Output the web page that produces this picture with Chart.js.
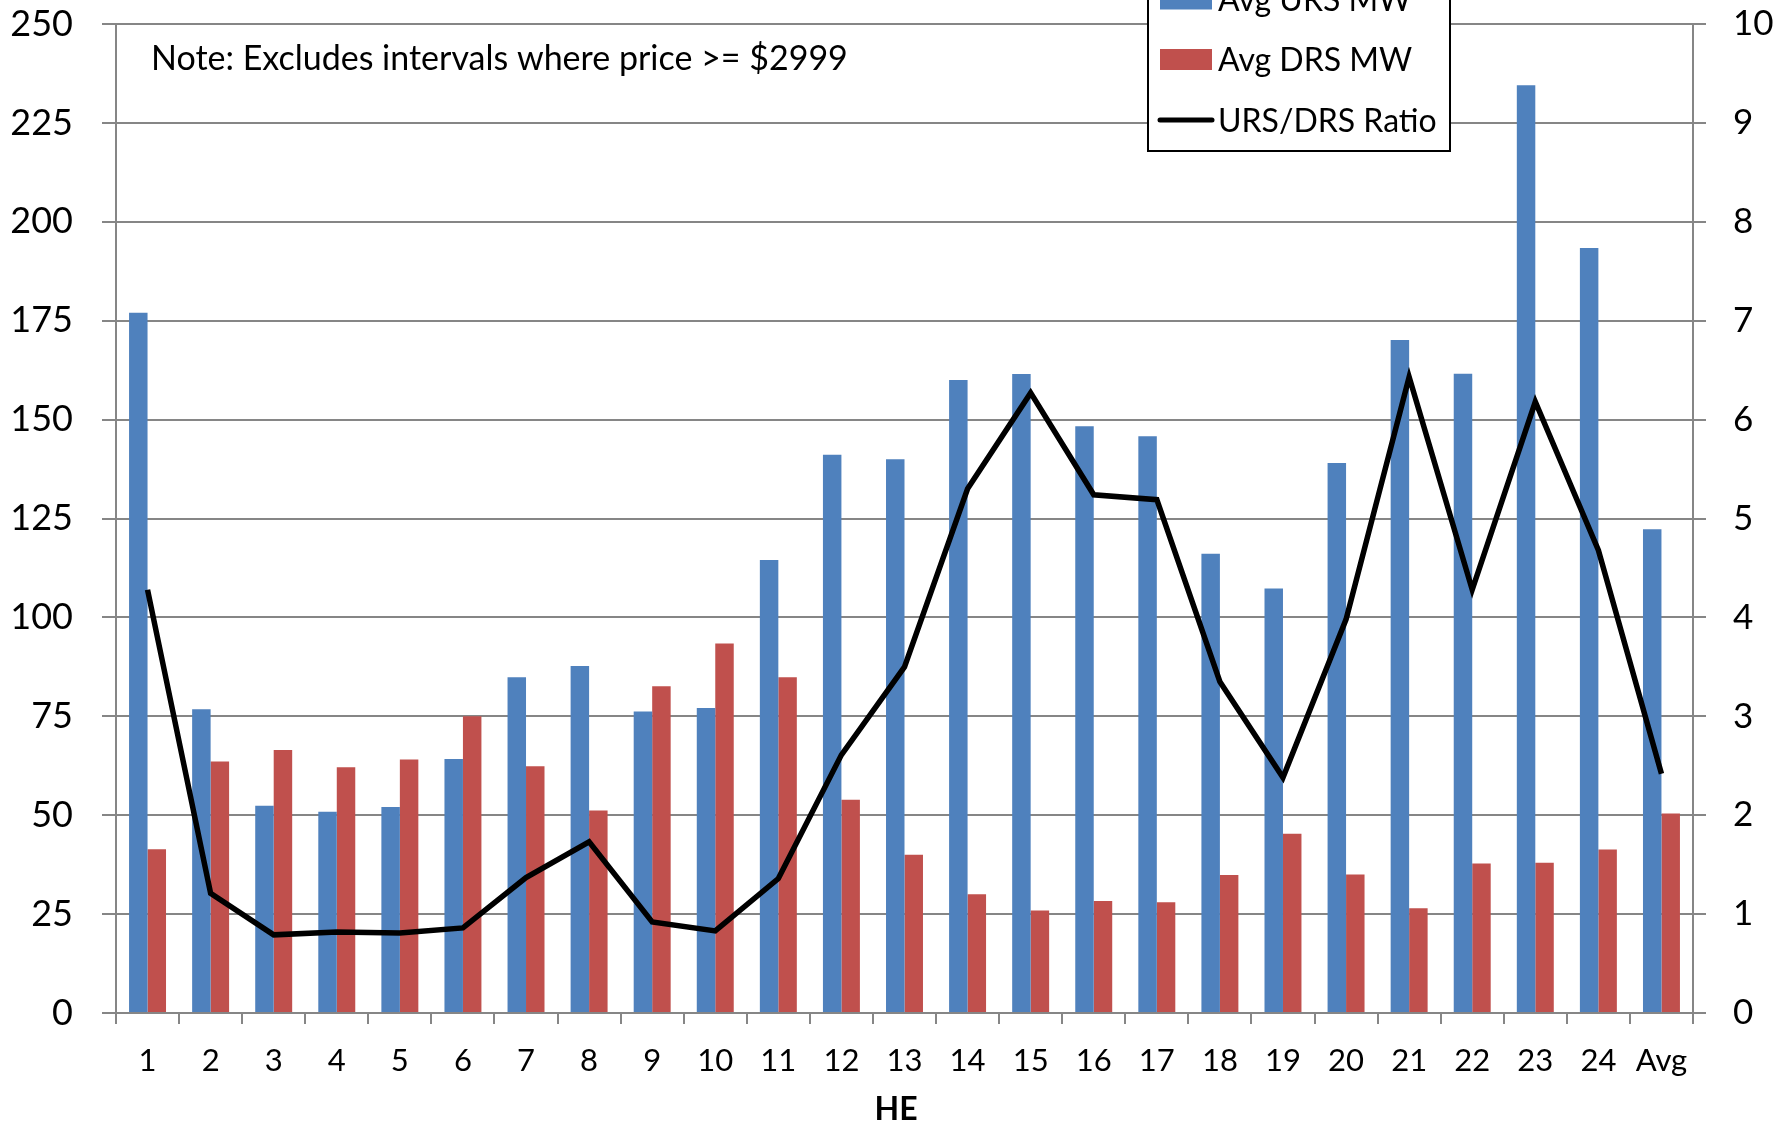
<!DOCTYPE html>
<html>
<head>
<meta charset="utf-8">
<title>Avg URS / DRS MW by HE</title>
<script src="https://cdn.jsdelivr.net/npm/chart.js@4.4.1/dist/chart.umd.min.js"></script>
<style>
    html, body { margin: 0; padding: 0; background: #ffffff; }
    #wrap { position: relative; width: 1782px; height: 1126px; }
</style>
</head>
<body>
<div id="wrap"><canvas id="chart"></canvas></div>
<script>
// Hour ending categories + the averages column
var hours = ['1', '2', '3', '4', '5', '6', '7', '8', '9', '10', '11', '12',
             '13', '14', '15', '16', '17', '18', '19', '20', '21', '22', '23', '24', 'Avg'];

var ursMW = [177, 76.8, 52.4, 50.9, 52.1, 64.2, 84.9, 87.7, 76.2, 77.1, 114.5, 141.1,
             140.0, 160.0, 161.5, 148.3, 145.8, 116.1, 107.3, 139.0, 170.1, 161.6, 234.5, 193.4, 122.3];

var drsMW = [41.4, 63.6, 66.5, 62.1, 64.1, 75.0, 62.4, 51.2, 82.6, 93.4, 84.9, 53.9,
             40.0, 30.0, 25.9, 28.3, 28.0, 34.9, 45.3, 35.0, 26.5, 37.8, 38.0, 41.3, 50.4];

var ratio = [4.28, 1.21, 0.79, 0.82, 0.81, 0.86, 1.37, 1.73, 0.92, 0.83, 1.36, 2.61,
             3.50, 5.30, 6.27, 5.24, 5.19, 3.35, 2.38, 3.98, 6.43, 4.28, 6.18, 4.68, 2.42];

var leftMax = 250, leftStep = 25;
var rightMax = 10, rightStep = 1;

var noteText = 'Note: Excludes intervals where price >= $2999';
var xTitle = 'HE';

var BLUE = '#4F81BD';
var RED = '#C0504D';
var GRID = '#868686';
var FONT = 'Lato, "Open Sans", sans-serif';

// Legend box, note and axis title drawn by hand (legend sits half off the top edge)
var overlayPlugin = {
    id: 'overlay',
    afterDraw: function (chart) {
        var ctx = chart.ctx;
        ctx.save();

        ctx.fillStyle = '#000000';
        ctx.font = '34px ' + FONT;
        ctx.textAlign = 'left';
        ctx.textBaseline = 'alphabetic';
        ctx.fillText(noteText, 151, 70);

        // x axis title, a bit left of the plot centre like the original
        ctx.font = 'bold 32px ' + FONT;
        ctx.textAlign = 'center';
        ctx.fillText(xTitle, 896, 1120);
        ctx.textAlign = 'left';

        var bx = 1148, by = -30, bw = 302, bh = 181;
        ctx.fillStyle = '#ffffff';
        ctx.fillRect(bx, by, bw, bh);
        ctx.strokeStyle = '#000000';
        ctx.lineWidth = 2;
        ctx.strokeRect(bx, by, bw, bh);

        var rows = [-1, 59.5, 120];
        ctx.font = '32px ' + FONT;
        chart.data.datasets.forEach(function (ds, i) {
            var cy = rows[i];
            if (ds.type === 'line') {
                ctx.strokeStyle = ds.borderColor;
                ctx.lineWidth = 5;
                ctx.lineCap = 'round';
                ctx.beginPath();
                ctx.moveTo(1160, cy);
                ctx.lineTo(1212, cy);
                ctx.stroke();
            } else {
                ctx.fillStyle = ds.backgroundColor;
                ctx.fillRect(1160, cy - 10.5, 52, 21);
            }
            ctx.fillStyle = '#000000';
            ctx.fillText(ds.label, 1218, cy + 11.5);
        });

        ctx.restore();
    }
};

// fixed axis sizes so the plot area lands where the original has it
function fixWidth(w) {
    return function (scale) {
        scale.width = w;
        scale.paddingTop = 0;
        scale.paddingBottom = 0;
    };
}

function build() {
    var ctx = document.getElementById('chart');
    new Chart(ctx, {
        type: 'bar',
        data: {
            labels: hours,
            datasets: [
                {
                    label: 'Avg URS MW',
                    data: ursMW,
                    backgroundColor: BLUE,
                    yAxisID: 'y',
                    order: 2
                },
                {
                    label: 'Avg DRS MW',
                    data: drsMW,
                    backgroundColor: RED,
                    yAxisID: 'y',
                    order: 2
                },
                {
                    type: 'line',
                    label: 'URS/DRS Ratio',
                    data: ratio,
                    borderColor: '#000000',
                    backgroundColor: '#000000',
                    borderWidth: 5.5,
                    borderJoinStyle: 'miter',
                    pointRadius: 0,
                    tension: 0,
                    yAxisID: 'y1',
                    order: 1
                }
            ]
        },
        options: {
            responsive: true,
            maintainAspectRatio: false,
            animation: false,
            categoryPercentage: 0.586,
            barPercentage: 1.0,
            layout: { padding: { top: 24, left: 0, right: 0, bottom: 0 } },
            plugins: {
                legend: { display: false },
                tooltip: { enabled: false }
            },
            scales: {
                x: {
                    offset: true,
                    grid: {
                        offset: true,
                        drawOnChartArea: false,
                        color: GRID,
                        lineWidth: 2,
                        tickLength: 11
                    },
                    border: { color: GRID, width: 2 },
                    ticks: {
                        color: '#000000',
                        font: { family: FONT, size: 31 },
                        padding: 18,
                        maxRotation: 0,
                        autoSkip: false
                    },
                    afterFit: function (scale) { scale.height = 113; }
                },
                y: {
                    position: 'left',
                    min: 0,
                    max: leftMax,
                    grid: { color: GRID, lineWidth: 2, tickLength: 14 },
                    border: { color: GRID, width: 2 },
                    ticks: {
                        stepSize: leftStep,
                        color: '#000000',
                        font: { family: FONT, size: 36 },
                        padding: 29
                    },
                    afterFit: fixWidth(116)
                },
                y1: {
                    position: 'right',
                    min: 0,
                    max: rightMax,
                    grid: { drawOnChartArea: false, color: GRID, lineWidth: 2, tickLength: 13 },
                    border: { color: GRID, width: 2 },
                    ticks: {
                        stepSize: rightStep,
                        color: '#000000',
                        font: { family: FONT, size: 35 },
                        padding: 27
                    },
                    afterFit: fixWidth(89)
                }
            }
        },
        plugins: [overlayPlugin]
    });
}

if (document.fonts && document.fonts.load) {
    Promise.all([
        document.fonts.load('36px Lato'),
        document.fonts.load('bold 32px Lato')
    ]).then(build, build);
} else {
    build();
}
</script>
</body>
</html>
